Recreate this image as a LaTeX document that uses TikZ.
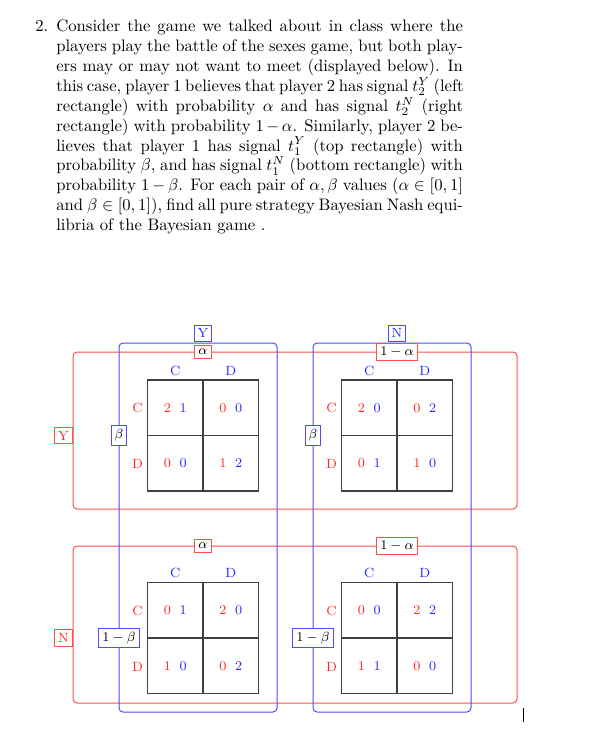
\documentclass[tikz,border=0pt]{standalone}
\usepackage{amsmath}
\newcommand\pay[2]{\textcolor{red!85}{#1}\hspace{5.2pt}\textcolor{blue!85}{#2}}
\newcommand\mygame[6]{%
\begin{scope}[shift={#2}]
\node[cell] (#1-11) at (-27.75,-27.75) {#3};
\node[cell] (#1-12) at (27.75,-27.75) {#4};
\node[cell] (#1-21) at (-27.75,27.75) {#5};
\node[cell] (#1-22) at (27.75,27.75) {#6};
\node[collab] (#1-cC) at (-27.75,-65) {C};
\node[collab] (#1-cD) at (27.75,-65) {D};
\node[rowlab] (#1-rC) at (-65.5,-27.2) {C};
\node[rowlab] (#1-rD) at (-65.5,28.5) {D};
\end{scope}}
\begin{document}
\begin{tikzpicture}[x=0.6pt,y=-0.6pt,
  txt/.style={anchor=base west, inner sep=0pt, font=\fontsize{10}{12}\selectfont},
  dfont/.style={font=\fontsize{8}{9.6}\selectfont},
  redbox/.style={draw=red!70, line width=0.6pt, rounded corners=2.4pt},
  bluebox/.style={draw=blue!70, line width=0.6pt, rounded corners=2.4pt},
  cell/.style={draw=black!75, line width=0.7pt, minimum size=33.3pt, inner sep=0pt, dfont},
  collab/.style={dfont, text=blue!85, inner sep=1pt},
  rowlab/.style={dfont, text=red!85, inner sep=1pt},
  lab/.style={dfont, fill=white, line width=0.6pt, inner sep=2.2pt},
  rlab/.style={lab, draw=red!70},
  blab/.style={lab, draw=blue!70}
]
\useasboundingbox (0,0) rectangle (613,730);
% problem text
\node[txt] (num) at (35,31.6) {2.};
\node[txt] (l1) at (56,31.6) {\makebox[244pt][s]{Consider the game we talked about in class where the}};
\node[txt] (l2) at (56,51.5) {\makebox[244pt][s]{players play the battle of the sexes game, but both play-}};
\node[txt] (l3) at (56,71.4) {\makebox[244pt][s]{ers may or may not want to meet (displayed below). In}};
\node[txt] (l4) at (56,91.3) {\makebox[244pt][s]{this case, player 1 believes that player 2 has signal $t_2^Y$ (left}};
\node[txt] (l5) at (56,111.2) {\makebox[244pt][s]{rectangle) with probability $\alpha$ and has signal $t_2^N$ (right}};
\node[txt] (l6) at (56,131.1) {\makebox[244pt][s]{rectangle) with probability $1-\alpha$. Similarly, player 2 be-}};
\node[txt] (l7) at (56,151.0) {\makebox[244pt][s]{lieves that player 1 has signal $t_1^Y$ (top rectangle) with}};
\node[txt] (l8) at (56,170.9) {\makebox[244pt][s]{probability $\beta$, and has signal $t_1^N$ (bottom rectangle) with}};
\node[txt] (l9) at (56,190.8) {\makebox[244pt][s]{probability $1-\beta$. For each pair of $\alpha,\beta$ values ($\alpha\in[0,1]$}};
\node[txt] (l10) at (56,210.7) {\makebox[244pt][s]{and $\beta\in[0,1]$), find all pure strategy Bayesian Nash equi-}};
\node[txt] (l11) at (56,230.6) {libria of the Bayesian game .};
% type rectangles
\draw[redbox] (73,352) rectangle (517,509);
\draw[redbox] (73,546) rectangle (517,703);
\draw[bluebox] (119,343) rectangle (277,712);
\draw[bluebox] (313,343) rectangle (471,712);
% games
\mygame{a}{(203,435.5)}{\pay{2}{1}}{\pay{0}{0}}{\pay{0}{0}}{\pay{1}{2}}
\mygame{b}{(397,435.5)}{\pay{2}{0}}{\pay{0}{2}}{\pay{0}{1}}{\pay{1}{0}}
\mygame{c}{(203,638)}{\pay{0}{1}}{\pay{2}{0}}{\pay{1}{0}}{\pay{0}{2}}
\mygame{d}{(397,638)}{\pay{0}{0}}{\pay{2}{2}}{\pay{1}{1}}{\pay{0}{0}}
% labels
\node[blab, text=blue!85, anchor=south] (tY) at (203,342) {Y};
\node[blab, text=blue!85, anchor=south] (tN) at (397,342) {N};
\node[rlab] (pa1) at (203,352) {$\alpha$};
\node[rlab] (pa2) at (397,352) {$1-\alpha$};
\node[rlab] (pa3) at (203,546) {$\alpha$};
\node[rlab] (pa4) at (397,546) {$1-\alpha$};
\node[rlab, text=red!85, anchor=east] (sY) at (73,435.5) {Y};
\node[rlab, text=red!85, anchor=east] (sN) at (73,638) {N};
\node[blab] (pb1) at (119,435.5) {$\beta$};
\node[blab] (pb2) at (313,435.5) {$\beta$};
\node[blab] (pb3) at (119,638) {$1-\beta$};
\node[blab] (pb4) at (313,638) {$1-\beta$};
% stray cursor mark
\draw[black, line width=0.8pt] (523.3,708.3) -- (523.3,722.3);
\end{tikzpicture}
\end{document}
